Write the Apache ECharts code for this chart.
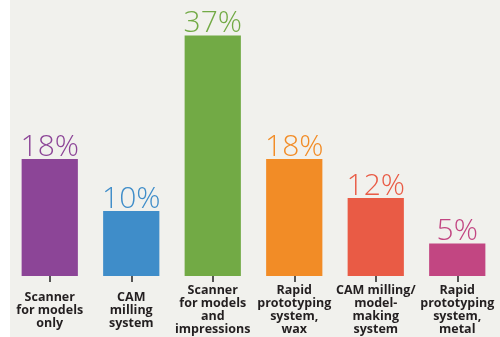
<!DOCTYPE html>
<html>
<head>
<meta charset="utf-8">
<script src="https://cdn.jsdelivr.net/npm/echarts@6/dist/echarts.min.js"></script>
<style>
html,body{margin:0;padding:0;background:#ffffff;}
#c{width:500px;height:337px;}
</style>
</head>
<body>
<div id="c"></div>
<script>
const categories = [
  "Scanner\nfor models\nonly",
  "CAM\nmilling\nsystem",
  "Scanner\nfor models\nand\nimpressions",
  "Rapid\nprototyping\nsystem,\nwax",
  "CAM milling/\nmodel-\nmaking\nsystem",
  "Rapid\nprototyping\nsystem,\nmetal"
];
const values = [18, 10, 37, 18, 12, 5];
const colors = ["#8c4597", "#3f8dc9", "#72aa45", "#f28c26", "#e95b45", "#c24682"];

const chart = echarts.init(document.getElementById('c'), null, {renderer: 'canvas'});
chart.setOption({
  backgroundColor: '#f1f1ed',
  animation: false,
  graphic: [{
    type: 'rect', left: 0, top: 0, z: -10,
    shape: {width: 10, height: 337},
    style: {fill: '#ffffff'}
  }],
  grid: {left: 9, right: 2, top: 16, bottom: 61, containLabel: false},
  xAxis: {
    type: 'category',
    data: categories,
    axisLine: {show: false},
    axisTick: {show: true, alignWithLabel: true, length: 6, lineStyle: {color: '#222', width: 1.5}},
    axisLabel: {
      interval: 0,
      margin: 34,
      verticalAlign: 'middle',
      color: '#231f20',
      fontFamily: 'Open Sans',
      fontWeight: 'bold',
      fontSize: 12.5,
      lineHeight: 13
    }
  },
  yAxis: {
    type: 'value', min: 0, max: 40,
    show: false,
    splitLine: {show: false}
  },
  series: [{
    type: 'bar',
    barCategoryGap: '31%',
    data: values.map((v, i) => ({value: v, itemStyle: {color: colors[i]}, label: {color: colors[i]}})),
    label: {
      show: true,
      position: 'top',
      distance: -3,
      formatter: '{c}%',
      fontFamily: 'Open Sans',
      fontWeight: 300,
      fontSize: 30
    }
  }]
});
</script>
</body>
</html>
